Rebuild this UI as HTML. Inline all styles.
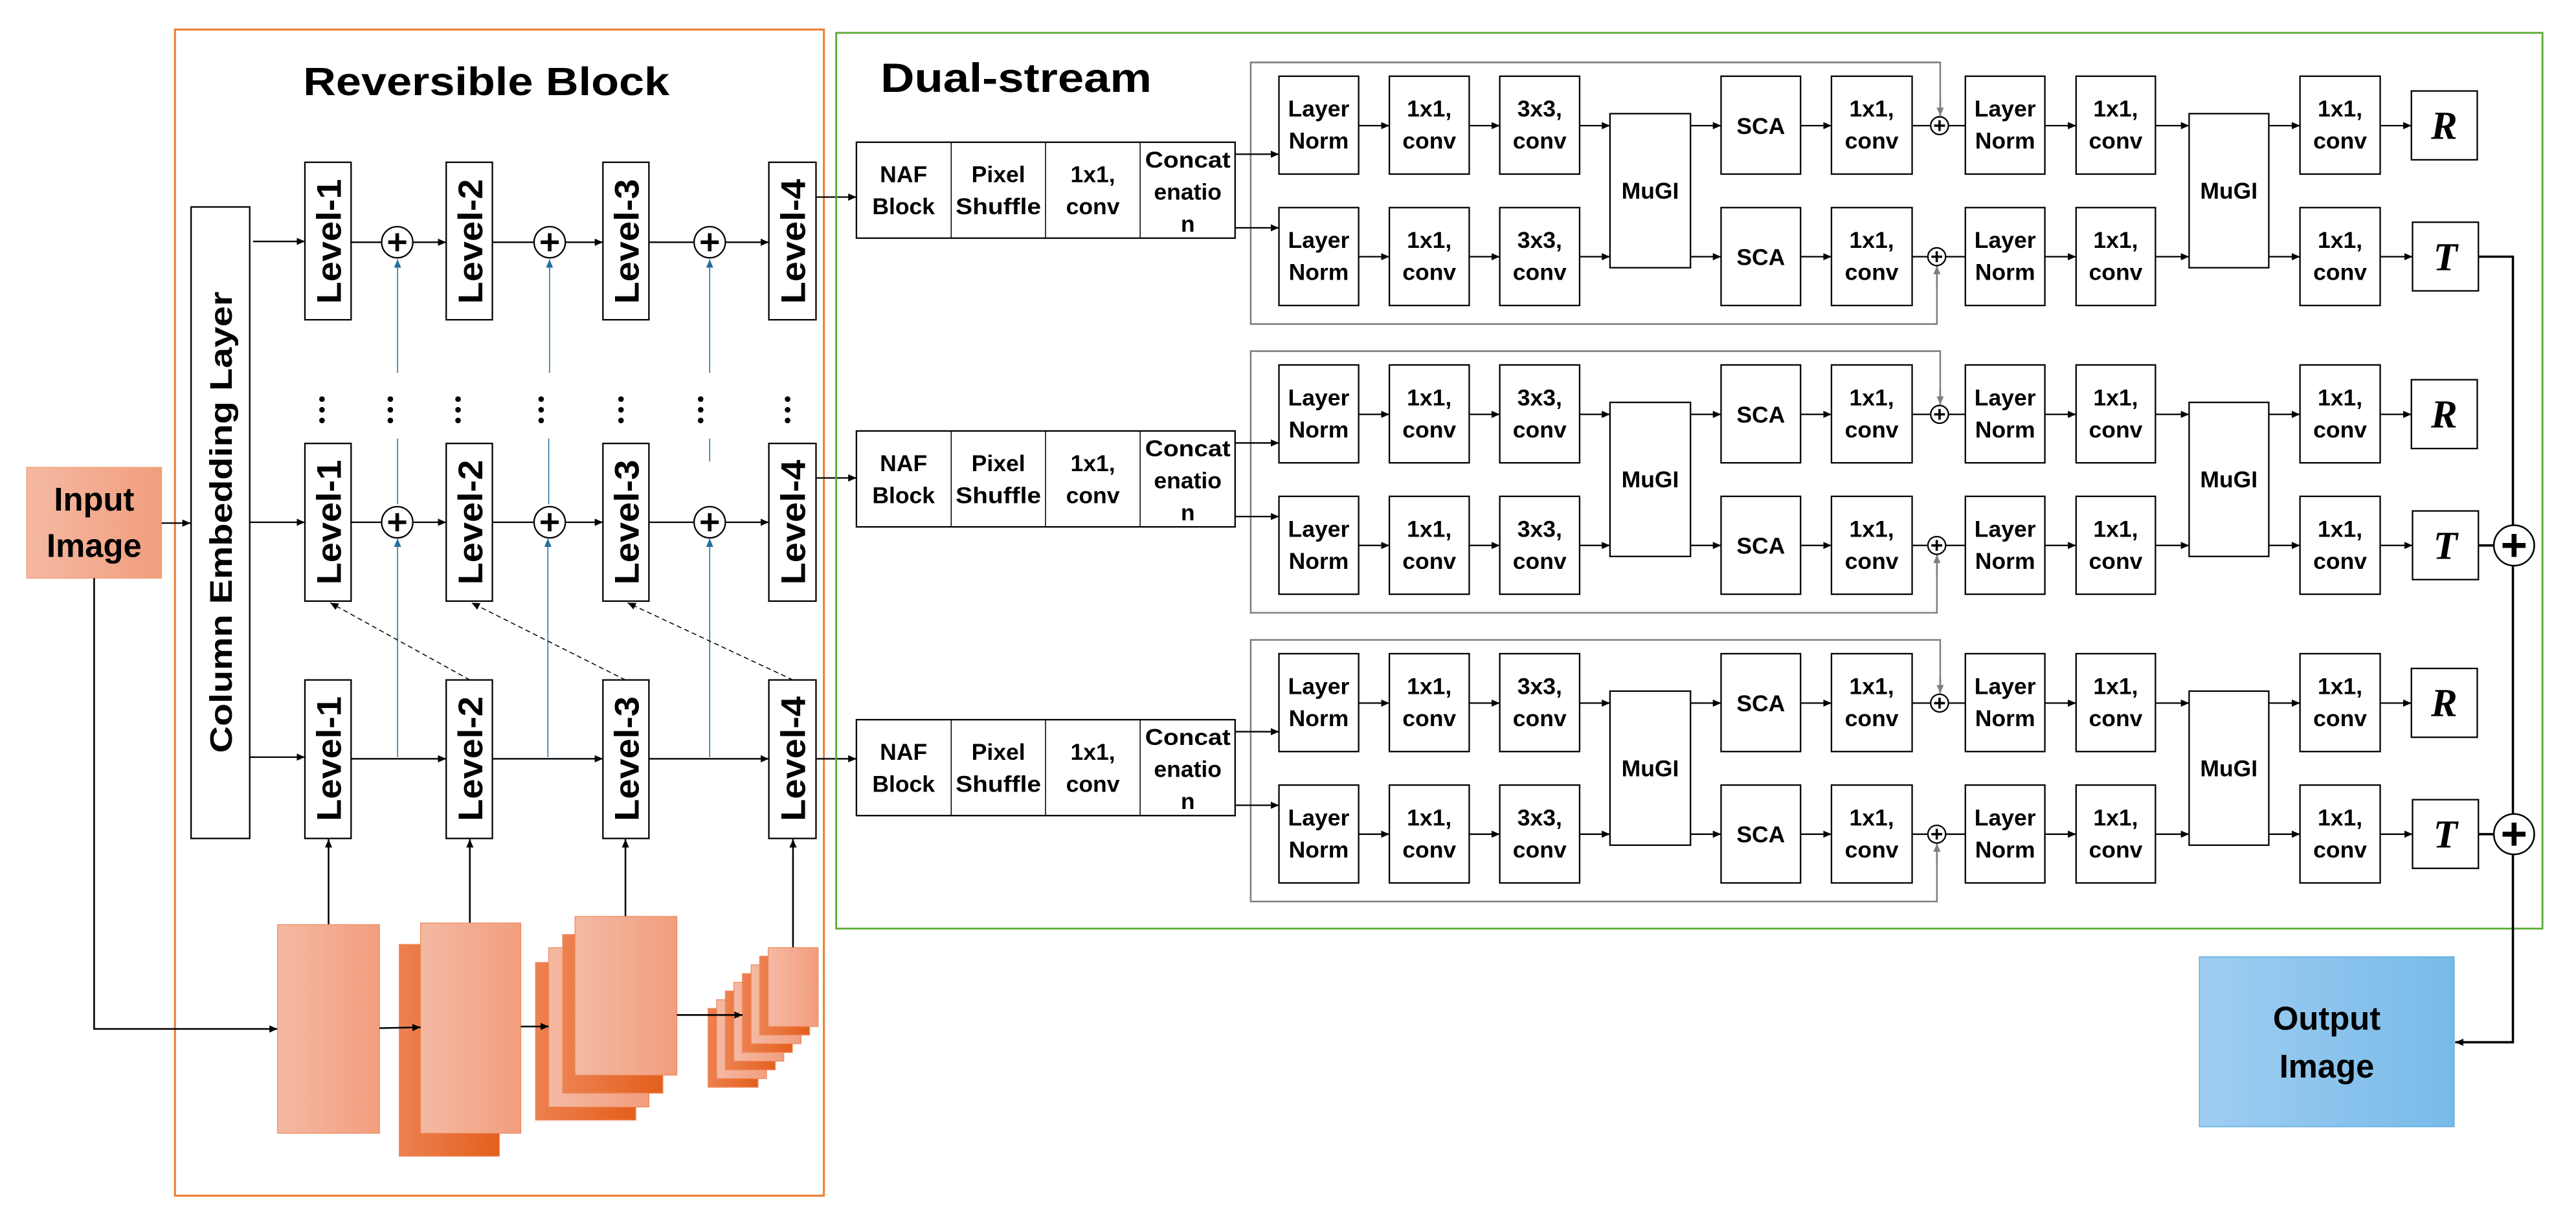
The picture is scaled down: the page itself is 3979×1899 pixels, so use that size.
<!DOCTYPE html>
<html><head><meta charset="utf-8"><style>
html,body{margin:0;padding:0;background:#fff;}
svg{display:block;}
text{font-family:"Liberation Sans",sans-serif;font-weight:bold;fill:#000;}
</style></head><body>
<svg xmlns="http://www.w3.org/2000/svg" width="3979" height="1899" viewBox="0 0 1568 748.3" preserveAspectRatio="none">
<defs>
<marker id="a" markerUnits="userSpaceOnUse" markerWidth="6" markerHeight="6" refX="5" refY="3" orient="auto"><path d="M0,0.8 L5,3 L0,5.2z" fill="#000"/></marker>
<marker id="ab" markerUnits="userSpaceOnUse" markerWidth="6" markerHeight="6" refX="5" refY="3" orient="auto"><path d="M0,0.8 L5,3 L0,5.2z" fill="#1f6f9a"/></marker>
<marker id="ag" markerUnits="userSpaceOnUse" markerWidth="6" markerHeight="6" refX="5" refY="3" orient="auto"><path d="M0,0.8 L5,3 L0,5.2z" fill="#7f7f7f"/></marker>
<linearGradient id="lt" x1="0" x2="1" y1="0" y2="0"><stop offset="0" stop-color="#f4b9a3"/><stop offset="1" stop-color="#f29e7e"/></linearGradient>
<linearGradient id="dk" x1="0" x2="1" y1="0" y2="0"><stop offset="0" stop-color="#ec8150"/><stop offset="1" stop-color="#e45f1c"/></linearGradient>
<linearGradient id="bl" x1="0" x2="1" y1="0" y2="0"><stop offset="0" stop-color="#9fcdf2"/><stop offset="1" stop-color="#78bbe8"/></linearGradient>
</defs>

<!-- Reversible block -->
<rect x="106.5" y="18" width="395" height="710" fill="none" stroke="#ed7d31" stroke-width="1.2"/>
<text x="296" y="58" font-size="24" text-anchor="middle" textLength="223" lengthAdjust="spacingAndGlyphs">Reversible Block</text>

<!-- Input image -->
<rect x="16.3" y="284.6" width="82" height="67.4" fill="url(#lt)" stroke="#f0a07a" stroke-width="0.6"/>
<text x="57.3" y="311" font-size="20" text-anchor="middle">Input</text>
<text x="57.3" y="339" font-size="20" text-anchor="middle">Image</text>
<line x1="98.4" y1="318.5" x2="116" y2="318.5" stroke="#000" stroke-width="0.9" marker-end="url(#a)"/>
<polyline points="57.3,352 57.3,626.5 169,626.5" fill="none" stroke="#000" stroke-width="1" marker-end="url(#a)"/>

<!-- Column embedding -->
<rect x="116.3" y="126" width="35.7" height="384.5" fill="#fff" stroke="#000" stroke-width="0.9"/>
<text transform="translate(141,318) rotate(-90)" font-size="19" text-anchor="middle" textLength="281" lengthAdjust="spacingAndGlyphs">Column Embedding Layer</text>

<!-- horizontal lines -->
<g stroke="#000" stroke-width="0.9" fill="none">
<line x1="154" y1="147" x2="185.6" y2="147" marker-end="url(#a)"/>
<line x1="152" y1="318" x2="185.6" y2="318" marker-end="url(#a)"/>
<line x1="152" y1="461" x2="185.6" y2="461" marker-end="url(#a)"/>
<line x1="213.7" y1="147.5" x2="232.3" y2="147.5"/><line x1="251.3" y1="147.5" x2="271.6" y2="147.5" marker-end="url(#a)"/>
<line x1="299.7" y1="147.5" x2="325" y2="147.5"/><line x1="344" y1="147.5" x2="367" y2="147.5" marker-end="url(#a)"/>
<line x1="395" y1="147.5" x2="422.5" y2="147.5"/><line x1="441.5" y1="147.5" x2="468" y2="147.5" marker-end="url(#a)"/>
<line x1="213.7" y1="318" x2="232.3" y2="318"/><line x1="251.3" y1="318" x2="271.6" y2="318" marker-end="url(#a)"/>
<line x1="299.7" y1="318" x2="325" y2="318"/><line x1="344" y1="318" x2="367" y2="318" marker-end="url(#a)"/>
<line x1="395" y1="318" x2="422.5" y2="318"/><line x1="441.5" y1="318" x2="468" y2="318" marker-end="url(#a)"/>
<line x1="213.7" y1="462" x2="271.6" y2="462" marker-end="url(#a)"/>
<line x1="299.7" y1="462" x2="367" y2="462" marker-end="url(#a)"/>
<line x1="395" y1="462" x2="468" y2="462" marker-end="url(#a)"/>
<!-- to NAF -->
<line x1="496.7" y1="120" x2="521.3" y2="120" marker-end="url(#a)"/>
<line x1="496.7" y1="291" x2="521.3" y2="291" marker-end="url(#a)"/>
<line x1="496.7" y1="462" x2="521.3" y2="462" marker-end="url(#a)"/>
</g>

<!-- blue lines -->
<g stroke="#1f6f9a" stroke-width="0.6" fill="none">
<line x1="242" y1="227" x2="242" y2="158" marker-end="url(#ab)"/>
<line x1="242" y1="267" x2="242" y2="307"/>
<line x1="242" y1="461" x2="242" y2="328" marker-end="url(#ab)"/>
<line x1="334.5" y1="227" x2="334.5" y2="158" marker-end="url(#ab)"/>
<line x1="334" y1="267" x2="334" y2="307"/>
<line x1="333.5" y1="461" x2="333.5" y2="328" marker-end="url(#ab)"/>
<line x1="432" y1="227" x2="432" y2="158" marker-end="url(#ab)"/>
<line x1="432" y1="267" x2="432" y2="281"/>
<line x1="432" y1="461" x2="432" y2="328" marker-end="url(#ab)"/>
</g>

<!-- plus circles left -->
<g stroke="#000" stroke-width="0.9" fill="#fff">
<ellipse cx="241.8" cy="147.5" rx="9.5" ry="9.5"/><ellipse cx="334.6" cy="147.5" rx="9.5" ry="9.5"/><ellipse cx="432" cy="147.5" rx="9.5" ry="9.5"/>
<ellipse cx="241.8" cy="318" rx="9.5" ry="9.5"/><ellipse cx="334.6" cy="318" rx="9.5" ry="9.5"/><ellipse cx="432" cy="318" rx="9.5" ry="9.5"/>
</g>
<g stroke="#000" stroke-width="2.2">
<path d="M236.3,147.5h11M241.8,142v11M329.1,147.5h11M334.6,142v11M426.5,147.5h11M432,142v11"/>
<path d="M236.3,318h11M241.8,312.5v11M329.1,318h11M334.6,312.5v11M426.5,318h11M432,312.5v11"/>
</g>

<!-- dashed -->
<g stroke="#000" stroke-width="0.6" stroke-dasharray="3,2" fill="none">
<line x1="286" y1="414" x2="201" y2="367" marker-end="url(#a)"/>
<line x1="380.7" y1="414" x2="287" y2="367" marker-end="url(#a)"/>
<line x1="482.7" y1="414" x2="382" y2="367" marker-end="url(#a)"/>
</g>

<!-- Level boxes -->
<g fill="#fff" stroke="#000" stroke-width="0.9">
<rect x="185.6" y="98.8" width="28.1" height="95.9"/><rect x="271.6" y="98.8" width="28.1" height="95.9"/><rect x="367" y="98.8" width="28" height="95.9"/><rect x="468" y="98.8" width="28.7" height="95.9"/>
<rect x="185.6" y="270" width="28.1" height="96"/><rect x="271.6" y="270" width="28.1" height="96"/><rect x="367" y="270" width="28" height="96"/><rect x="468" y="270" width="28.7" height="96"/>
<rect x="185.6" y="414" width="28.1" height="96.5"/><rect x="271.6" y="414" width="28.1" height="96.5"/><rect x="367" y="414" width="28" height="96.5"/><rect x="468" y="414" width="28.7" height="96.5"/>
</g>
<g font-size="21">
<text transform="translate(207.5,147) rotate(-90)" text-anchor="middle" textLength="76" lengthAdjust="spacingAndGlyphs">Level-1</text>
<text transform="translate(293.5,147) rotate(-90)" text-anchor="middle" textLength="76" lengthAdjust="spacingAndGlyphs">Level-2</text>
<text transform="translate(388.8,147) rotate(-90)" text-anchor="middle" textLength="76" lengthAdjust="spacingAndGlyphs">Level-3</text>
<text transform="translate(490,147) rotate(-90)" text-anchor="middle" textLength="76" lengthAdjust="spacingAndGlyphs">Level-4</text>
<text transform="translate(207.5,318) rotate(-90)" text-anchor="middle" textLength="76" lengthAdjust="spacingAndGlyphs">Level-1</text>
<text transform="translate(293.5,318) rotate(-90)" text-anchor="middle" textLength="76" lengthAdjust="spacingAndGlyphs">Level-2</text>
<text transform="translate(388.8,318) rotate(-90)" text-anchor="middle" textLength="76" lengthAdjust="spacingAndGlyphs">Level-3</text>
<text transform="translate(490,318) rotate(-90)" text-anchor="middle" textLength="76" lengthAdjust="spacingAndGlyphs">Level-4</text>
<text transform="translate(207.5,462) rotate(-90)" text-anchor="middle" textLength="76" lengthAdjust="spacingAndGlyphs">Level-1</text>
<text transform="translate(293.5,462) rotate(-90)" text-anchor="middle" textLength="76" lengthAdjust="spacingAndGlyphs">Level-2</text>
<text transform="translate(388.8,462) rotate(-90)" text-anchor="middle" textLength="76" lengthAdjust="spacingAndGlyphs">Level-3</text>
<text transform="translate(490,462) rotate(-90)" text-anchor="middle" textLength="76" lengthAdjust="spacingAndGlyphs">Level-4</text>
</g>

<!-- dots -->
<g fill="#000">
<circle cx="196" cy="243" r="1.7"/><circle cx="196" cy="249.5" r="1.7"/><circle cx="196" cy="256" r="1.7"/>
<circle cx="237.6" cy="243" r="1.7"/><circle cx="237.6" cy="249.5" r="1.7"/><circle cx="237.6" cy="256" r="1.7"/>
<circle cx="278.8" cy="243" r="1.7"/><circle cx="278.8" cy="249.5" r="1.7"/><circle cx="278.8" cy="256" r="1.7"/>
<circle cx="329.4" cy="243" r="1.7"/><circle cx="329.4" cy="249.5" r="1.7"/><circle cx="329.4" cy="256" r="1.7"/>
<circle cx="378" cy="243" r="1.7"/><circle cx="378" cy="249.5" r="1.7"/><circle cx="378" cy="256" r="1.7"/>
<circle cx="426.5" cy="243" r="1.7"/><circle cx="426.5" cy="249.5" r="1.7"/><circle cx="426.5" cy="256" r="1.7"/>
<circle cx="479.4" cy="243" r="1.7"/><circle cx="479.4" cy="249.5" r="1.7"/><circle cx="479.4" cy="256" r="1.7"/>
</g>

<!-- vertical arrows to row3 -->
<g stroke="#000" stroke-width="1" fill="none">
<line x1="200" y1="563" x2="200" y2="511" marker-end="url(#a)"/>
<line x1="286" y1="562" x2="286" y2="511" marker-end="url(#a)"/>
<line x1="380.7" y1="558" x2="380.7" y2="511" marker-end="url(#a)"/>
<line x1="482.7" y1="577" x2="482.7" y2="511" marker-end="url(#a)"/>
</g>

<!-- feature blocks -->
<g stroke="#ee8a5c" stroke-width="0.5">
<rect x="169" y="563" width="62" height="127" fill="url(#lt)"/>
<rect x="243" y="575" width="61" height="129" fill="url(#dk)"/>
<rect x="256" y="562" width="61" height="128" fill="url(#lt)"/>
<rect x="326" y="586" width="61" height="96" fill="url(#dk)"/>
<rect x="334" y="577" width="61" height="97" fill="url(#lt)"/>
<rect x="342.5" y="569" width="61" height="96.6" fill="url(#dk)"/>
<rect x="350" y="558" width="62" height="96.6" fill="url(#lt)"/>
<rect x="431" y="614" width="30.4" height="48" fill="url(#dk)"/>
<rect x="436.2" y="608.7" width="30.4" height="48" fill="url(#lt)"/>
<rect x="441.5" y="603.4" width="30.4" height="48" fill="url(#dk)"/>
<rect x="446.7" y="598.1" width="30.4" height="48" fill="url(#lt)"/>
<rect x="451.9" y="592.8" width="30.4" height="48" fill="url(#dk)"/>
<rect x="457.2" y="587.5" width="30.4" height="48" fill="url(#lt)"/>
<rect x="462.4" y="582.2" width="30.4" height="48" fill="url(#dk)"/>
<rect x="467.6" y="577" width="30.4" height="48" fill="url(#lt)"/>
</g>
<g stroke="#000" stroke-width="1">
<line x1="231" y1="626" x2="256" y2="625.5" marker-end="url(#a)"/>
<line x1="317" y1="625" x2="334" y2="625" marker-end="url(#a)"/>
<line x1="412" y1="618" x2="452" y2="618" marker-end="url(#a)"/>
</g>

<!-- Dual-stream -->
<rect x="509" y="20" width="1038.6" height="545.4" fill="none" stroke="#5aaa32" stroke-width="1.1"/>
<text x="536" y="56" font-size="25" textLength="165" lengthAdjust="spacingAndGlyphs">Dual-stream</text>

<!-- Group template repeated -->
<g id="g0">
<path d="M1181,70.5 L1181,38 L761.3,38 L761.3,197.3 L1179,197.3 L1179,162" fill="none" stroke="#7f7f7f" stroke-width="1"/>
<line x1="1181" y1="60" x2="1181" y2="70.5" stroke="#7f7f7f" stroke-width="1" marker-end="url(#ag)"/>
<line x1="1179" y1="175" x2="1179" y2="162" stroke="#7f7f7f" stroke-width="1" marker-end="url(#ag)"/>
<rect x="521.3" y="86.6" width="230.5" height="58.4" fill="#fff" stroke="#000" stroke-width="0.9"/>
<path d="M579,86.6V145M636.4,86.6V145M694,86.6V145" stroke="#000" stroke-width="0.6"/>
<g font-size="14" text-anchor="middle">
<text x="550" y="111">NAF</text><text x="550" y="130.5">Block</text>
<text x="607.7" y="111">Pixel</text><text x="607.7" y="130.5" textLength="52" lengthAdjust="spacingAndGlyphs">Shuffle</text>
<text x="665.2" y="111">1x1,</text><text x="665.2" y="130.5">conv</text>
<text x="723" y="102" textLength="52" lengthAdjust="spacingAndGlyphs">Concat</text><text x="723" y="121.5">enatio</text><text x="723" y="141">n</text>
</g>
<g stroke="#000" stroke-width="0.9" fill="none">
<line x1="751.8" y1="93.9" x2="778.5" y2="93.9" marker-end="url(#a)"/>
<line x1="751.8" y1="138.7" x2="778.5" y2="138.7" marker-end="url(#a)"/>
<line x1="827" y1="76.5" x2="845.7" y2="76.5" marker-end="url(#a)"/><line x1="894.3" y1="76.5" x2="912.9" y2="76.5" marker-end="url(#a)"/><line x1="961.5" y1="76.5" x2="980" y2="76.5" marker-end="url(#a)"/><line x1="1029" y1="76.5" x2="1047.6" y2="76.5" marker-end="url(#a)"/><line x1="1096" y1="76.5" x2="1114.8" y2="76.5" marker-end="url(#a)"/><line x1="1163.9" y1="76.5" x2="1175.2" y2="76.5"/><line x1="1186" y1="76.5" x2="1196.3" y2="76.5"/><line x1="1244.7" y1="76.5" x2="1263.7" y2="76.5" marker-end="url(#a)"/><line x1="1312" y1="76.5" x2="1332.5" y2="76.5" marker-end="url(#a)"/><line x1="1381" y1="76.5" x2="1400" y2="76.5" marker-end="url(#a)"/><line x1="1448.8" y1="76.5" x2="1467.8" y2="76.5" marker-end="url(#a)"/>
<line x1="827" y1="156.3" x2="845.7" y2="156.3" marker-end="url(#a)"/><line x1="894.3" y1="156.3" x2="912.9" y2="156.3" marker-end="url(#a)"/><line x1="961.5" y1="156.3" x2="980" y2="156.3" marker-end="url(#a)"/><line x1="1029" y1="156.3" x2="1047.6" y2="156.3" marker-end="url(#a)"/><line x1="1096" y1="156.3" x2="1114.8" y2="156.3" marker-end="url(#a)"/><line x1="1163.9" y1="156.3" x2="1173.5" y2="156.3"/><line x1="1184.3" y1="156.3" x2="1196.3" y2="156.3"/><line x1="1244.7" y1="156.3" x2="1263.7" y2="156.3" marker-end="url(#a)"/><line x1="1312" y1="156.3" x2="1332.5" y2="156.3" marker-end="url(#a)"/><line x1="1381" y1="156.3" x2="1400" y2="156.3" marker-end="url(#a)"/><line x1="1448.8" y1="156.3" x2="1468.5" y2="156.3" marker-end="url(#a)"/>
</g>
<g fill="#fff" stroke="#000" stroke-width="0.9">
<rect x="778.5" y="46.4" width="48.5" height="59.6"/><rect x="845.7" y="46.4" width="48.6" height="59.6"/><rect x="912.9" y="46.4" width="48.6" height="59.6"/>
<rect x="778.5" y="126.4" width="48.5" height="59.6"/><rect x="845.7" y="126.4" width="48.6" height="59.6"/><rect x="912.9" y="126.4" width="48.6" height="59.6"/>
<rect x="980" y="69.2" width="49" height="93.8"/>
<rect x="1047.6" y="46.4" width="48.4" height="59.6"/><rect x="1114.8" y="46.4" width="49.1" height="59.6"/>
<rect x="1047.6" y="126.4" width="48.4" height="59.6"/><rect x="1114.8" y="126.4" width="49.1" height="59.6"/>
<rect x="1196.3" y="46.4" width="48.4" height="59.6"/><rect x="1263.7" y="46.4" width="48.3" height="59.6"/>
<rect x="1196.3" y="126.4" width="48.4" height="59.6"/><rect x="1263.7" y="126.4" width="48.3" height="59.6"/>
<rect x="1332.5" y="69.2" width="48.5" height="93.8"/>
<rect x="1400" y="46.4" width="48.8" height="59.6"/><rect x="1400" y="126.4" width="48.8" height="59.6"/>
<rect x="1467.8" y="55.4" width="40.1" height="41.9"/><rect x="1468.5" y="135.3" width="40.1" height="41.8"/>
<circle cx="1180.6" cy="76.5" r="5.4"/><circle cx="1178.9" cy="156.3" r="5.4"/>
</g>
<path d="M1177.3,76.5h6.6M1180.6,73.2v6.6M1175.6,156.3h6.6M1178.9,153v6.6" stroke="#000" stroke-width="1.4"/>
<g font-size="14" text-anchor="middle">
<text x="802.7" y="71">Layer</text><text x="802.7" y="90.5">Norm</text>
<text x="870" y="71">1x1,</text><text x="870" y="90.5">conv</text>
<text x="937.2" y="71">3x3,</text><text x="937.2" y="90.5">conv</text>
<text x="802.7" y="151">Layer</text><text x="802.7" y="170.5">Norm</text>
<text x="870" y="151">1x1,</text><text x="870" y="170.5">conv</text>
<text x="937.2" y="151">3x3,</text><text x="937.2" y="170.5">conv</text>
<text x="1004.5" y="121">MuGI</text>
<text x="1071.8" y="81.5">SCA</text><text x="1071.8" y="161.3">SCA</text>
<text x="1139.3" y="71">1x1,</text><text x="1139.3" y="90.5">conv</text>
<text x="1139.3" y="151">1x1,</text><text x="1139.3" y="170.5">conv</text>
<text x="1220.5" y="71">Layer</text><text x="1220.5" y="90.5">Norm</text>
<text x="1220.5" y="151">Layer</text><text x="1220.5" y="170.5">Norm</text>
<text x="1287.8" y="71">1x1,</text><text x="1287.8" y="90.5">conv</text>
<text x="1287.8" y="151">1x1,</text><text x="1287.8" y="170.5">conv</text>
<text x="1356.7" y="121">MuGI</text>
<text x="1424.4" y="71">1x1,</text><text x="1424.4" y="90.5">conv</text>
<text x="1424.4" y="151">1x1,</text><text x="1424.4" y="170.5">conv</text>
</g>
<text x="1487.8" y="84.5" font-size="24" text-anchor="middle" font-style="italic" style="font-family:'Liberation Serif',serif">R</text>
<text x="1488.5" y="164.5" font-size="24" text-anchor="middle" font-style="italic" style="font-family:'Liberation Serif',serif">T</text>
</g>

<g transform="translate(0,175.8)">
<path d="M1181,70.5 L1181,38 L761.3,38 L761.3,197.3 L1179,197.3 L1179,162" fill="none" stroke="#7f7f7f" stroke-width="1"/>
<line x1="1181" y1="60" x2="1181" y2="70.5" stroke="#7f7f7f" stroke-width="1" marker-end="url(#ag)"/>
<line x1="1179" y1="175" x2="1179" y2="162" stroke="#7f7f7f" stroke-width="1" marker-end="url(#ag)"/>
<rect x="521.3" y="86.6" width="230.5" height="58.4" fill="#fff" stroke="#000" stroke-width="0.9"/>
<path d="M579,86.6V145M636.4,86.6V145M694,86.6V145" stroke="#000" stroke-width="0.6"/>
<g font-size="14" text-anchor="middle">
<text x="550" y="111">NAF</text><text x="550" y="130.5">Block</text>
<text x="607.7" y="111">Pixel</text><text x="607.7" y="130.5" textLength="52" lengthAdjust="spacingAndGlyphs">Shuffle</text>
<text x="665.2" y="111">1x1,</text><text x="665.2" y="130.5">conv</text>
<text x="723" y="102" textLength="52" lengthAdjust="spacingAndGlyphs">Concat</text><text x="723" y="121.5">enatio</text><text x="723" y="141">n</text>
</g>
<g stroke="#000" stroke-width="0.9" fill="none">
<line x1="751.8" y1="93.9" x2="778.5" y2="93.9" marker-end="url(#a)"/>
<line x1="751.8" y1="138.7" x2="778.5" y2="138.7" marker-end="url(#a)"/>
<line x1="827" y1="76.5" x2="845.7" y2="76.5" marker-end="url(#a)"/><line x1="894.3" y1="76.5" x2="912.9" y2="76.5" marker-end="url(#a)"/><line x1="961.5" y1="76.5" x2="980" y2="76.5" marker-end="url(#a)"/><line x1="1029" y1="76.5" x2="1047.6" y2="76.5" marker-end="url(#a)"/><line x1="1096" y1="76.5" x2="1114.8" y2="76.5" marker-end="url(#a)"/><line x1="1163.9" y1="76.5" x2="1175.2" y2="76.5"/><line x1="1186" y1="76.5" x2="1196.3" y2="76.5"/><line x1="1244.7" y1="76.5" x2="1263.7" y2="76.5" marker-end="url(#a)"/><line x1="1312" y1="76.5" x2="1332.5" y2="76.5" marker-end="url(#a)"/><line x1="1381" y1="76.5" x2="1400" y2="76.5" marker-end="url(#a)"/><line x1="1448.8" y1="76.5" x2="1467.8" y2="76.5" marker-end="url(#a)"/>
<line x1="827" y1="156.3" x2="845.7" y2="156.3" marker-end="url(#a)"/><line x1="894.3" y1="156.3" x2="912.9" y2="156.3" marker-end="url(#a)"/><line x1="961.5" y1="156.3" x2="980" y2="156.3" marker-end="url(#a)"/><line x1="1029" y1="156.3" x2="1047.6" y2="156.3" marker-end="url(#a)"/><line x1="1096" y1="156.3" x2="1114.8" y2="156.3" marker-end="url(#a)"/><line x1="1163.9" y1="156.3" x2="1173.5" y2="156.3"/><line x1="1184.3" y1="156.3" x2="1196.3" y2="156.3"/><line x1="1244.7" y1="156.3" x2="1263.7" y2="156.3" marker-end="url(#a)"/><line x1="1312" y1="156.3" x2="1332.5" y2="156.3" marker-end="url(#a)"/><line x1="1381" y1="156.3" x2="1400" y2="156.3" marker-end="url(#a)"/><line x1="1448.8" y1="156.3" x2="1468.5" y2="156.3" marker-end="url(#a)"/>
</g>
<g fill="#fff" stroke="#000" stroke-width="0.9">
<rect x="778.5" y="46.4" width="48.5" height="59.6"/><rect x="845.7" y="46.4" width="48.6" height="59.6"/><rect x="912.9" y="46.4" width="48.6" height="59.6"/>
<rect x="778.5" y="126.4" width="48.5" height="59.6"/><rect x="845.7" y="126.4" width="48.6" height="59.6"/><rect x="912.9" y="126.4" width="48.6" height="59.6"/>
<rect x="980" y="69.2" width="49" height="93.8"/>
<rect x="1047.6" y="46.4" width="48.4" height="59.6"/><rect x="1114.8" y="46.4" width="49.1" height="59.6"/>
<rect x="1047.6" y="126.4" width="48.4" height="59.6"/><rect x="1114.8" y="126.4" width="49.1" height="59.6"/>
<rect x="1196.3" y="46.4" width="48.4" height="59.6"/><rect x="1263.7" y="46.4" width="48.3" height="59.6"/>
<rect x="1196.3" y="126.4" width="48.4" height="59.6"/><rect x="1263.7" y="126.4" width="48.3" height="59.6"/>
<rect x="1332.5" y="69.2" width="48.5" height="93.8"/>
<rect x="1400" y="46.4" width="48.8" height="59.6"/><rect x="1400" y="126.4" width="48.8" height="59.6"/>
<rect x="1467.8" y="55.4" width="40.1" height="41.9"/><rect x="1468.5" y="135.3" width="40.1" height="41.8"/>
<circle cx="1180.6" cy="76.5" r="5.4"/><circle cx="1178.9" cy="156.3" r="5.4"/>
</g>
<path d="M1177.3,76.5h6.6M1180.6,73.2v6.6M1175.6,156.3h6.6M1178.9,153v6.6" stroke="#000" stroke-width="1.4"/>
<g font-size="14" text-anchor="middle">
<text x="802.7" y="71">Layer</text><text x="802.7" y="90.5">Norm</text>
<text x="870" y="71">1x1,</text><text x="870" y="90.5">conv</text>
<text x="937.2" y="71">3x3,</text><text x="937.2" y="90.5">conv</text>
<text x="802.7" y="151">Layer</text><text x="802.7" y="170.5">Norm</text>
<text x="870" y="151">1x1,</text><text x="870" y="170.5">conv</text>
<text x="937.2" y="151">3x3,</text><text x="937.2" y="170.5">conv</text>
<text x="1004.5" y="121">MuGI</text>
<text x="1071.8" y="81.5">SCA</text><text x="1071.8" y="161.3">SCA</text>
<text x="1139.3" y="71">1x1,</text><text x="1139.3" y="90.5">conv</text>
<text x="1139.3" y="151">1x1,</text><text x="1139.3" y="170.5">conv</text>
<text x="1220.5" y="71">Layer</text><text x="1220.5" y="90.5">Norm</text>
<text x="1220.5" y="151">Layer</text><text x="1220.5" y="170.5">Norm</text>
<text x="1287.8" y="71">1x1,</text><text x="1287.8" y="90.5">conv</text>
<text x="1287.8" y="151">1x1,</text><text x="1287.8" y="170.5">conv</text>
<text x="1356.7" y="121">MuGI</text>
<text x="1424.4" y="71">1x1,</text><text x="1424.4" y="90.5">conv</text>
<text x="1424.4" y="151">1x1,</text><text x="1424.4" y="170.5">conv</text>
</g>
<text x="1487.8" y="84.5" font-size="24" text-anchor="middle" font-style="italic" style="font-family:'Liberation Serif',serif">R</text>
<text x="1488.5" y="164.5" font-size="24" text-anchor="middle" font-style="italic" style="font-family:'Liberation Serif',serif">T</text>
</g>

<g transform="translate(0,351.6)">
<path d="M1181,70.5 L1181,38 L761.3,38 L761.3,197.3 L1179,197.3 L1179,162" fill="none" stroke="#7f7f7f" stroke-width="1"/>
<line x1="1181" y1="60" x2="1181" y2="70.5" stroke="#7f7f7f" stroke-width="1" marker-end="url(#ag)"/>
<line x1="1179" y1="175" x2="1179" y2="162" stroke="#7f7f7f" stroke-width="1" marker-end="url(#ag)"/>
<rect x="521.3" y="86.6" width="230.5" height="58.4" fill="#fff" stroke="#000" stroke-width="0.9"/>
<path d="M579,86.6V145M636.4,86.6V145M694,86.6V145" stroke="#000" stroke-width="0.6"/>
<g font-size="14" text-anchor="middle">
<text x="550" y="111">NAF</text><text x="550" y="130.5">Block</text>
<text x="607.7" y="111">Pixel</text><text x="607.7" y="130.5" textLength="52" lengthAdjust="spacingAndGlyphs">Shuffle</text>
<text x="665.2" y="111">1x1,</text><text x="665.2" y="130.5">conv</text>
<text x="723" y="102" textLength="52" lengthAdjust="spacingAndGlyphs">Concat</text><text x="723" y="121.5">enatio</text><text x="723" y="141">n</text>
</g>
<g stroke="#000" stroke-width="0.9" fill="none">
<line x1="751.8" y1="93.9" x2="778.5" y2="93.9" marker-end="url(#a)"/>
<line x1="751.8" y1="138.7" x2="778.5" y2="138.7" marker-end="url(#a)"/>
<line x1="827" y1="76.5" x2="845.7" y2="76.5" marker-end="url(#a)"/><line x1="894.3" y1="76.5" x2="912.9" y2="76.5" marker-end="url(#a)"/><line x1="961.5" y1="76.5" x2="980" y2="76.5" marker-end="url(#a)"/><line x1="1029" y1="76.5" x2="1047.6" y2="76.5" marker-end="url(#a)"/><line x1="1096" y1="76.5" x2="1114.8" y2="76.5" marker-end="url(#a)"/><line x1="1163.9" y1="76.5" x2="1175.2" y2="76.5"/><line x1="1186" y1="76.5" x2="1196.3" y2="76.5"/><line x1="1244.7" y1="76.5" x2="1263.7" y2="76.5" marker-end="url(#a)"/><line x1="1312" y1="76.5" x2="1332.5" y2="76.5" marker-end="url(#a)"/><line x1="1381" y1="76.5" x2="1400" y2="76.5" marker-end="url(#a)"/><line x1="1448.8" y1="76.5" x2="1467.8" y2="76.5" marker-end="url(#a)"/>
<line x1="827" y1="156.3" x2="845.7" y2="156.3" marker-end="url(#a)"/><line x1="894.3" y1="156.3" x2="912.9" y2="156.3" marker-end="url(#a)"/><line x1="961.5" y1="156.3" x2="980" y2="156.3" marker-end="url(#a)"/><line x1="1029" y1="156.3" x2="1047.6" y2="156.3" marker-end="url(#a)"/><line x1="1096" y1="156.3" x2="1114.8" y2="156.3" marker-end="url(#a)"/><line x1="1163.9" y1="156.3" x2="1173.5" y2="156.3"/><line x1="1184.3" y1="156.3" x2="1196.3" y2="156.3"/><line x1="1244.7" y1="156.3" x2="1263.7" y2="156.3" marker-end="url(#a)"/><line x1="1312" y1="156.3" x2="1332.5" y2="156.3" marker-end="url(#a)"/><line x1="1381" y1="156.3" x2="1400" y2="156.3" marker-end="url(#a)"/><line x1="1448.8" y1="156.3" x2="1468.5" y2="156.3" marker-end="url(#a)"/>
</g>
<g fill="#fff" stroke="#000" stroke-width="0.9">
<rect x="778.5" y="46.4" width="48.5" height="59.6"/><rect x="845.7" y="46.4" width="48.6" height="59.6"/><rect x="912.9" y="46.4" width="48.6" height="59.6"/>
<rect x="778.5" y="126.4" width="48.5" height="59.6"/><rect x="845.7" y="126.4" width="48.6" height="59.6"/><rect x="912.9" y="126.4" width="48.6" height="59.6"/>
<rect x="980" y="69.2" width="49" height="93.8"/>
<rect x="1047.6" y="46.4" width="48.4" height="59.6"/><rect x="1114.8" y="46.4" width="49.1" height="59.6"/>
<rect x="1047.6" y="126.4" width="48.4" height="59.6"/><rect x="1114.8" y="126.4" width="49.1" height="59.6"/>
<rect x="1196.3" y="46.4" width="48.4" height="59.6"/><rect x="1263.7" y="46.4" width="48.3" height="59.6"/>
<rect x="1196.3" y="126.4" width="48.4" height="59.6"/><rect x="1263.7" y="126.4" width="48.3" height="59.6"/>
<rect x="1332.5" y="69.2" width="48.5" height="93.8"/>
<rect x="1400" y="46.4" width="48.8" height="59.6"/><rect x="1400" y="126.4" width="48.8" height="59.6"/>
<rect x="1467.8" y="55.4" width="40.1" height="41.9"/><rect x="1468.5" y="135.3" width="40.1" height="41.8"/>
<circle cx="1180.6" cy="76.5" r="5.4"/><circle cx="1178.9" cy="156.3" r="5.4"/>
</g>
<path d="M1177.3,76.5h6.6M1180.6,73.2v6.6M1175.6,156.3h6.6M1178.9,153v6.6" stroke="#000" stroke-width="1.4"/>
<g font-size="14" text-anchor="middle">
<text x="802.7" y="71">Layer</text><text x="802.7" y="90.5">Norm</text>
<text x="870" y="71">1x1,</text><text x="870" y="90.5">conv</text>
<text x="937.2" y="71">3x3,</text><text x="937.2" y="90.5">conv</text>
<text x="802.7" y="151">Layer</text><text x="802.7" y="170.5">Norm</text>
<text x="870" y="151">1x1,</text><text x="870" y="170.5">conv</text>
<text x="937.2" y="151">3x3,</text><text x="937.2" y="170.5">conv</text>
<text x="1004.5" y="121">MuGI</text>
<text x="1071.8" y="81.5">SCA</text><text x="1071.8" y="161.3">SCA</text>
<text x="1139.3" y="71">1x1,</text><text x="1139.3" y="90.5">conv</text>
<text x="1139.3" y="151">1x1,</text><text x="1139.3" y="170.5">conv</text>
<text x="1220.5" y="71">Layer</text><text x="1220.5" y="90.5">Norm</text>
<text x="1220.5" y="151">Layer</text><text x="1220.5" y="170.5">Norm</text>
<text x="1287.8" y="71">1x1,</text><text x="1287.8" y="90.5">conv</text>
<text x="1287.8" y="151">1x1,</text><text x="1287.8" y="170.5">conv</text>
<text x="1356.7" y="121">MuGI</text>
<text x="1424.4" y="71">1x1,</text><text x="1424.4" y="90.5">conv</text>
<text x="1424.4" y="151">1x1,</text><text x="1424.4" y="170.5">conv</text>
</g>
<text x="1487.8" y="84.5" font-size="24" text-anchor="middle" font-style="italic" style="font-family:'Liberation Serif',serif">R</text>
<text x="1488.5" y="164.5" font-size="24" text-anchor="middle" font-style="italic" style="font-family:'Liberation Serif',serif">T</text>
</g>

<!-- right-side summation -->
<g stroke="#000" stroke-width="1.4" fill="none">
<polyline points="1508.6,156.3 1529.6,156.3 1529.6,319.6"/>
<line x1="1508.6" y1="332.1" x2="1518" y2="332.1"/>
<line x1="1529.6" y1="344.4" x2="1529.6" y2="495.4"/>
<line x1="1508.6" y1="507.9" x2="1518" y2="507.9"/>
<polyline points="1529.6,520.2 1529.6,634.6 1494.5,634.6" marker-end="url(#a)"/>
</g>
<g fill="#fff" stroke="#000" stroke-width="1">
<circle cx="1530.3" cy="332.1" r="12.3"/><circle cx="1530.3" cy="507.9" r="12.3"/>
</g>
<path d="M1523.3,332.1h14M1530.3,325.1v14M1523.3,507.9h14M1530.3,500.9v14" stroke="#000" stroke-width="3"/>

<!-- Output -->
<rect x="1338.8" y="582.6" width="155" height="103.4" fill="url(#bl)" stroke="#5aaee0" stroke-width="0.6"/>
<text x="1416.3" y="627" font-size="20" text-anchor="middle">Output</text>
<text x="1416.3" y="656" font-size="20" text-anchor="middle">Image</text>
</svg>
</body></html>
